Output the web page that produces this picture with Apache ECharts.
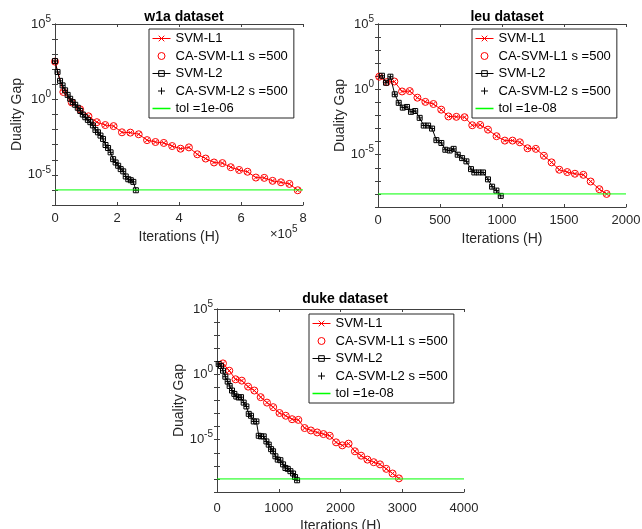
<!DOCTYPE html>
<html><head><meta charset="utf-8">
<script src="https://cdn.jsdelivr.net/npm/echarts@6/dist/echarts.min.js"></script>
<style>html,body{margin:0;padding:0;background:#fff}#c{width:642px;height:529px}</style>
</head><body><div id="c"></div>
<script>
// ---------- data ----------
const titles = ['w1a dataset', 'leu dataset', 'duke dataset'];
const seriesNames = ['SVM-L1', 'CA-SVM-L1 s =500', 'SVM-L2', 'CA-SVM-L2 s =500'];
const tolNames = ['tol =1e-06', 'tol =1e-08', 'tol =1e-08'];
const tolValues = [1e-6, 1e-8, 1e-8];
const xMax = [800000, 2000, 4000];
const xStep = [200000, 500, 1000];
const yMinExp = [-7, -9, -9];
const yMaxExp = 5;
const yLabelExps = [5, 0, -5];
const xAxisTitle = 'Iterations (H)';
const yAxisTitle = 'Duality Gap';

// w1a
const w1aL1X = [0, 27000, 54000, 81000, 108000, 135000, 162000, 189000, 216000, 243000, 270000, 297000, 324000, 351000, 378000, 405000, 432000, 459000, 486000, 513000, 540000, 567000, 594000, 621000, 648000, 675000, 702000, 729000, 756000, 783000];
const w1aL1Y = [3.2e2, 3.1, 0.63, 0.22, 0.076, 0.031, 0.020, 0.017, 6.6e-3, 6.3e-3, 4.9e-3, 2.0e-3, 1.5e-3, 1.3e-3, 8.1e-4, 5.4e-4, 6.6e-4, 2.3e-4, 1.2e-4, 6.6e-5, 6.0e-5, 3.2e-5, 2.1e-5, 1.6e-5, 6.6e-6, 6.3e-6, 4.0e-6, 3.2e-6, 2.5e-6, 9.5e-7];
const w1aL2X = [0, 8200, 16300, 24500, 32600, 40800, 48900, 57100, 65200, 73400, 81500, 89700, 97800, 106000, 114100, 122300, 130400, 138600, 146700, 154900, 163000, 171200, 179300, 187500, 195600, 203800, 211900, 220100, 228200, 236400, 244500, 252700, 260800];
const w1aL2Y = [3.5e2, 66, 17, 8.5, 4.0, 2.0, 1.1, 0.66, 0.44, 0.28, 0.17, 0.10, 0.066, 0.044, 0.031, 0.019, 9.5e-3, 6.6e-3, 4.0e-3, 2.4e-3, 9.5e-4, 6.0e-4, 3.1e-4, 1.1e-4, 6.6e-5, 4.0e-5, 2.4e-5, 1.7e-5, 7.8e-6, 5.1e-6, 4.4e-6, 3.4e-6, 9.5e-7];

// leu
const leuL1X = [10, 70, 132, 194, 256, 318, 382, 447, 510, 568, 632, 698, 760, 824, 887, 956, 1023, 1085, 1144, 1206, 1273, 1338, 1400, 1462, 1526, 1588, 1656, 1715, 1785, 1844];
const leuL1Y = [9.3, 3.6, 4.0, 0.69, 0.74, 0.23, 0.11, 0.076, 0.028, 8.5e-3, 7.9e-3, 7.4e-3, 1.8e-3, 1.9e-3, 8.3e-4, 2.6e-4, 1.2e-4, 1.2e-4, 8.9e-5, 3.1e-5, 2.8e-5, 8.3e-6, 2.6e-6, 7.1e-7, 4.7e-7, 3.5e-7, 2.9e-7, 8.9e-8, 2.3e-8, 1.0e-8];
const leuL2X = [32, 65, 100, 135, 167, 200, 234, 266, 300, 336, 369, 404, 436, 471, 511, 543, 578, 610, 643, 678, 713, 750, 777, 812, 847, 887, 920, 955, 990];
const leuL2Y = [11, 3.2, 9.3, 0.42, 0.093, 0.040, 0.045, 0.019, 0.022, 6.6e-3, 1.7e-3, 1.7e-3, 1.0e-3, 1.3e-4, 7.9e-5, 2.4e-5, 2.1e-5, 2.8e-5, 1.0e-5, 5.5e-6, 3.1e-6, 7.9e-7, 4.4e-7, 4.4e-7, 4.4e-7, 1.3e-7, 3.6e-8, 1.8e-8, 7.1e-9];

// duke
const dukeL1X = [97, 199, 300, 402, 504, 605, 707, 809, 910, 1012, 1114, 1216, 1317, 1419, 1521, 1622, 1724, 1826, 1928, 2029, 2131, 2233, 2334, 2436, 2538, 2640, 2741, 2843, 2946];
const dukeL1Y = [6.9, 1.9, 0.42, 0.33, 0.115, 0.058, 0.018, 6.9e-3, 3.1e-3, 1.1e-3, 6.8e-4, 3.7e-4, 3.3e-4, 7.8e-5, 5.1e-5, 3.6e-5, 2.7e-5, 2.0e-5, 6.3e-6, 3.7e-6, 5.0e-6, 1.3e-6, 6.0e-7, 3.0e-7, 1.9e-7, 1.3e-7, 5.9e-8, 2.6e-8, 1.1e-8];
const dukeL2X = [27, 65, 97, 135, 173, 205, 243, 281, 313, 351, 389, 432, 476, 514, 551, 595, 638, 676, 713, 757, 800, 838, 876, 908, 946, 984, 1027, 1070, 1108, 1146, 1189, 1232, 1264, 1297];
const dukeL2Y = [6.2, 4.3, 1.9, 0.66, 0.28, 0.13, 0.058, 0.032, 0.020, 0.017, 0.018, 6.9e-3, 3.5e-3, 9.5e-4, 6.8e-4, 2.5e-4, 2.5e-4, 2.0e-5, 1.8e-5, 1.8e-5, 7.4e-6, 4.2e-6, 1.9e-6, 1.3e-6, 5.4e-7, 3.0e-7, 2.7e-7, 1.3e-7, 6.9e-8, 5.9e-8, 3.9e-8, 2.6e-8, 1.4e-8, 7.9e-9];

// ---------- chart ----------
const L1X = [w1aL1X, leuL1X, dukeL1X], L1Y = [w1aL1Y, leuL1Y, dukeL1Y];
const L2X = [w1aL2X, leuL2X, dukeL2X], L2Y = [w1aL2Y, leuL2Y, dukeL2Y];
const zip = (a, b) => a.map((v, i) => [v, b[i]]);

const FONT = '"Liberation Sans", Arial, Helvetica, sans-serif';
const AX = '#404040', TXT = '#262626';
const grids = [
  {left: 55, top: 24, width: 248, height: 181, outerBoundsMode: 'none', containLabel: false},
  {left: 378, top: 24, width: 248, height: 183, outerBoundsMode: 'none', containLabel: false},
  {left: 217, top: 309, width: 247, height: 183, outerBoundsMode: 'none', containLabel: false}
];
const titlePos = [[179, 5], [502, 5], [340, 287]];
const legendPos = [[149, 29], [472, 29], [309, 314]];
const xLabelMargin = [7, 7, 10];
const xNameGap = [25, 25, 27];

const X_PATH = 'path://M0,0L10,10M10,0L0,10';
const PLUS_PATH = 'path://M5,0L5,10M0,5L10,5';
const TOL_ICON = 'path://M0,0L20,0L20,1.7L0,1.7Z';

const xAxes = [], yAxes = [], series = [], titleArr = [], legends = [];
for (let p = 0; p < 3; p++) {
  const xCommon = {gridIndex: p, type: 'value', min: 0, max: xMax[p], interval: xStep[p],
    axisLine: {lineStyle: {color: AX, width: 1}}, axisTick: {inside: true, length: 3, lineStyle: {color: AX}},
    splitLine: {show: false}};
  xAxes.push(Object.assign({}, xCommon, {position: 'bottom',
    name: xAxisTitle, nameLocation: 'middle', nameGap: xNameGap[p],
    nameTextStyle: {fontFamily: FONT, fontSize: 14, color: TXT},
    axisLabel: {fontFamily: FONT, fontSize: 13, color: TXT, margin: xLabelMargin[p],
      formatter: v => p === 0 ? String(v / 100000) : String(v)}}));
  xAxes.push(Object.assign({}, xCommon, {position: 'top', axisLabel: {show: false}}));
  const yCommon = {gridIndex: p, type: 'log', logBase: 10, min: Math.pow(10, yMinExp[p]), max: Math.pow(10, yMaxExp), interval: 1,
    axisLine: {lineStyle: {color: AX, width: 1}}, axisTick: {inside: true, length: 3, lineStyle: {color: AX}},
    splitLine: {show: false}, minorTick: {show: false}};
  yAxes.push(Object.assign({}, yCommon, {position: 'left',
    name: yAxisTitle, nameLocation: 'middle', nameGap: 31,
    nameTextStyle: {fontFamily: FONT, fontSize: 14, color: TXT},
    axisLabel: {fontFamily: FONT, fontSize: 13, color: TXT, margin: 4,
      formatter: v => { const e = Math.round(Math.log10(v)); return yLabelExps.indexOf(e) >= 0 ? '10{s|' + e + '}' : ''; },
      rich: {s: {fontFamily: FONT, fontSize: 10, color: TXT, padding: [0, 0, 10, 0]}}}}));
  yAxes.push(Object.assign({}, yCommon, {position: 'right', axisLabel: {show: false}, name: ''}));

  const xi = 2 * p, yi = 2 * p;
  series.push({type: 'line', name: seriesNames[0], xAxisIndex: xi, yAxisIndex: yi, data: zip(L1X[p], L1Y[p]),
    color: '#ff0000', lineStyle: {color: '#ff0000', width: 1}, symbol: X_PATH, symbolSize: 4, symbolKeepAspect: true,
    itemStyle: {color: '#ff0000', borderColor: '#ff0000', borderWidth: 1}, showSymbol: true, z: 2});
  series.push({type: 'scatter', name: seriesNames[1], xAxisIndex: xi, yAxisIndex: yi, data: zip(L1X[p], L1Y[p]),
    color: '#ff0000', symbol: 'circle', symbolSize: 7,
    itemStyle: {color: 'rgba(0,0,0,0)', borderColor: '#ff0000', borderWidth: 1, opacity: 1}, z: 3});
  series.push({type: 'line', name: seriesNames[2], xAxisIndex: xi, yAxisIndex: yi, data: zip(L2X[p], L2Y[p]),
    color: '#000000', lineStyle: {color: '#000000', width: 1}, symbol: 'rect', symbolSize: 5,
    itemStyle: {color: 'rgba(0,0,0,0)', borderColor: '#000000', borderWidth: 1}, showSymbol: true, z: 4});
  series.push({type: 'scatter', name: seriesNames[3], xAxisIndex: xi, yAxisIndex: yi, data: zip(L2X[p], L2Y[p]),
    color: '#000000', symbol: PLUS_PATH, symbolSize: 5, symbolKeepAspect: true,
    itemStyle: {color: 'rgba(0,0,0,0)', borderColor: '#000000', borderWidth: 1, opacity: 1}, z: 5});
  series.push({type: 'line', name: tolNames[p], xAxisIndex: xi, yAxisIndex: yi,
    data: [[0, tolValues[p]], [xMax[p], tolValues[p]]],
    color: '#00ff00', lineStyle: {color: '#00ff00', width: 1}, symbol: 'none', z: 6});

  titleArr.push({text: titles[p], left: titlePos[p][0], top: titlePos[p][1], textAlign: 'center',
    textStyle: {fontFamily: FONT, fontSize: 14, fontWeight: 'bold', color: '#000'}});
  legends.push({orient: 'vertical', left: legendPos[p][0], top: legendPos[p][1],
    backgroundColor: '#fff', borderColor: '#262626', borderWidth: 1, padding: [3, 6, 3, 3],
    itemWidth: 18, itemHeight: 7, itemGap: 4.5, selectedMode: false,
    textStyle: {fontFamily: FONT, fontSize: 13, color: '#000', lineHeight: 13},
    itemStyle: {borderWidth: 1},
    lineStyle: {width: 1},
    data: [seriesNames[0], seriesNames[1], seriesNames[2], seriesNames[3],
      {name: tolNames[p], icon: TOL_ICON, itemStyle: {color: '#00ff00', borderWidth: 0}}]});
}

const chart = echarts.init(document.getElementById('c'), null, {renderer: 'canvas'});
chart.setOption({
  animation: false,
  backgroundColor: '#fff',
  title: titleArr,
  legend: legends,
  grid: grids,
  xAxis: xAxes,
  yAxis: yAxes,
  series: series,
  graphic: [{type: 'text', left: 270, top: 224,
    style: {text: '\u00d710{s|5}', fontFamily: FONT, fontSize: 13, fill: TXT,
      rich: {s: {fontFamily: FONT, fontSize: 10, fill: TXT, padding: [0, 0, 10, 0]}}}}]
});
</script>
</body></html>
